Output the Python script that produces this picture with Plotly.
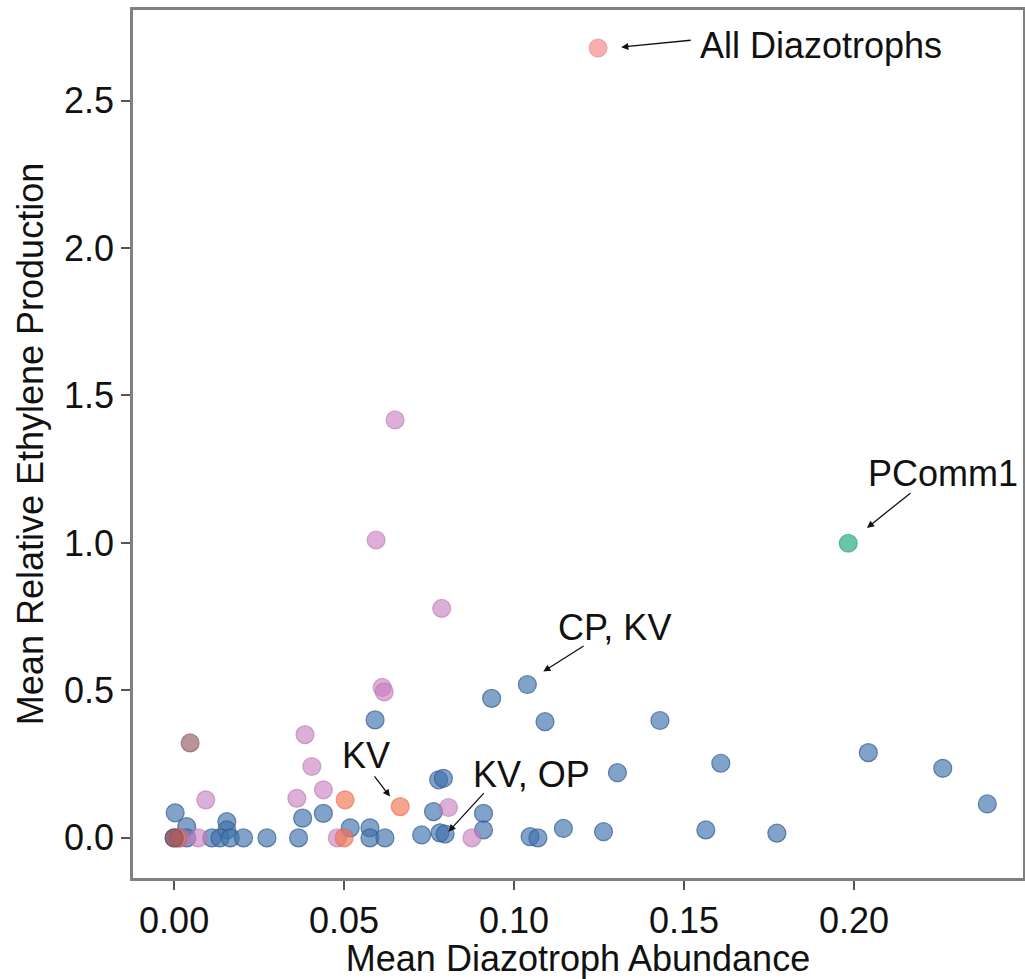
import plotly.graph_objects as go

# ---- data ----
blue_x = [0.0003, 0.0037, 0.0155, 0.0155, 0.0000, 0.0013, 0.0037, 0.0111, 0.0135, 0.0165,
          0.0204, 0.0273, 0.0366, 0.0378, 0.0439, 0.0518, 0.0576, 0.0576, 0.0620, 0.0591,
          0.0728, 0.0763, 0.0778, 0.0792, 0.0782, 0.0797, 0.0910, 0.0910, 0.0934, 0.1039,
          0.1091, 0.1047, 0.1070, 0.1145, 0.1263, 0.1304, 0.1429, 0.1608, 0.1564, 0.1773,
          0.2042, 0.2261, 0.2392]
blue_y = [0.085, 0.038, 0.055, 0.027, 0.000, 0.000, 0.000, 0.000, 0.000, 0.000,
          0.000, 0.000, 0.000, 0.067, 0.083, 0.034, 0.034, 0.000, 0.000, 0.400,
          0.010, 0.089, 0.197, 0.202, 0.017, 0.013, 0.083, 0.027, 0.473, 0.520,
          0.394, 0.004, 0.000, 0.032, 0.021, 0.221, 0.398, 0.253, 0.027, 0.016,
          0.289, 0.236, 0.115]

pink_x = [0.0650, 0.0594, 0.0787, 0.0612, 0.0618, 0.0385, 0.0405, 0.0439, 0.0361, 0.0093,
          0.0807, 0.0876, 0.0480, 0.0071, 0.0020]
pink_y = [1.417, 1.010, 0.778, 0.510, 0.495, 0.350, 0.242, 0.163, 0.134, 0.129,
          0.103, 0.000, 0.000, 0.000, 0.000]

salmon_x = [0.0503, 0.0665, 0.0500, 0.0010]
salmon_y = [0.129, 0.106, 0.000, 0.000]

brown_x = [0.0047, 0.0000]
brown_y = [0.322, 0.000]

all_x = [0.1247]
all_y = [2.678]

green_x = [0.1983]
green_y = [0.999]

x_ticks = [0.00, 0.05, 0.10, 0.15, 0.20]
y_ticks = [0.0, 0.5, 1.0, 1.5, 2.0, 2.5]

labels = ["All Diazotrophs", "PComm1", "CP, KV", "KV", "KV, OP"]
# arrow head (x, y), arrow tail (x, y), text anchor (x, y)
heads = [(0.1315, 2.681), (0.2038, 1.051), (0.1086, 0.564), (0.0635, 0.140), (0.0807, 0.021)]
tails = [(0.1524, 2.705), (0.2170, 1.173), (0.1209, 0.654), (0.0586, 0.214), (0.0915, 0.157)]
text_pos = [(0.1541, 2.688), (0.2035, 1.237), (0.1124, 0.715), (0.0565, 0.281), (0.0874, 0.214)]
text_anchor = ["left", "left", "left", "center", "left"]

FONT = "Liberation Sans, Arial, Helvetica, sans-serif"
SIZE = 36

fig = go.Figure()


def add(xs, ys, fill, edge):
    fig.add_trace(go.Scatter(
        x=xs, y=ys, mode="markers",
        marker=dict(size=18, color=fill, line=dict(color=edge, width=1.2)),
        showlegend=False, hoverinfo="skip"))


add(blue_x, blue_y, "rgba(62,112,172,0.65)", "rgba(50,90,140,0.7)")
add(pink_x, pink_y, "rgba(200,125,190,0.62)", "rgba(180,110,170,0.55)")
add(salmon_x, salmon_y, "rgba(240,115,80,0.65)", "rgba(220,100,70,0.55)")
add(brown_x, brown_y, "rgba(140,80,90,0.62)", "rgba(120,70,80,0.55)")
add(all_x, all_y, "rgba(240,125,125,0.62)", "rgba(225,115,115,0.45)")
add(green_x, green_y, "rgba(35,170,120,0.68)", "rgba(30,150,105,0.55)")

for lab, (hx, hy), (tx, ty), (px, py), anc in zip(labels, heads, tails, text_pos, text_anchor):
    fig.add_annotation(x=hx, y=hy, ax=tx, ay=ty, xref="x", yref="y", axref="x", ayref="y",
                       text="", showarrow=True, arrowhead=2, arrowsize=1.1, arrowwidth=1.3,
                       arrowcolor="#111111", standoff=0, startstandoff=0)
    fig.add_annotation(x=px, y=py, xref="x", yref="y", text=lab, showarrow=False,
                       xanchor=anc, yanchor="middle",
                       font=dict(family=FONT, size=SIZE, color="#111111"))

axis_common = dict(
    showgrid=False, zeroline=False, showline=True, mirror=True,
    linecolor="#808080", linewidth=2.5,
    ticks="outside", ticklen=9, tickwidth=2, tickcolor="#555555",
    tickfont=dict(family=FONT, size=SIZE, color="#111111"),
)

fig.update_xaxes(range=[-0.0121, 0.2497], tickvals=x_ticks,
                 ticktext=[f"{v:.2f}" for v in x_ticks],
                 title=dict(text="Mean Diazotroph Abundance", standoff=6,
                            font=dict(family=FONT, size=SIZE, color="#111111")),
                 **axis_common)
fig.update_yaxes(range=[-0.136, 2.807], tickvals=y_ticks,
                 ticktext=[f"{v:.1f}" for v in y_ticks],
                 title=dict(text="Mean Relative Ethylene Production", standoff=10,
                            font=dict(family=FONT, size=SIZE, color="#111111")),
                 **axis_common)

fig.update_layout(width=1025, height=979,
                  margin=dict(l=133, r=2, t=10, b=101, autoexpand=False),
                  plot_bgcolor="white", paper_bgcolor="white")

fig.write_html("out.html")
